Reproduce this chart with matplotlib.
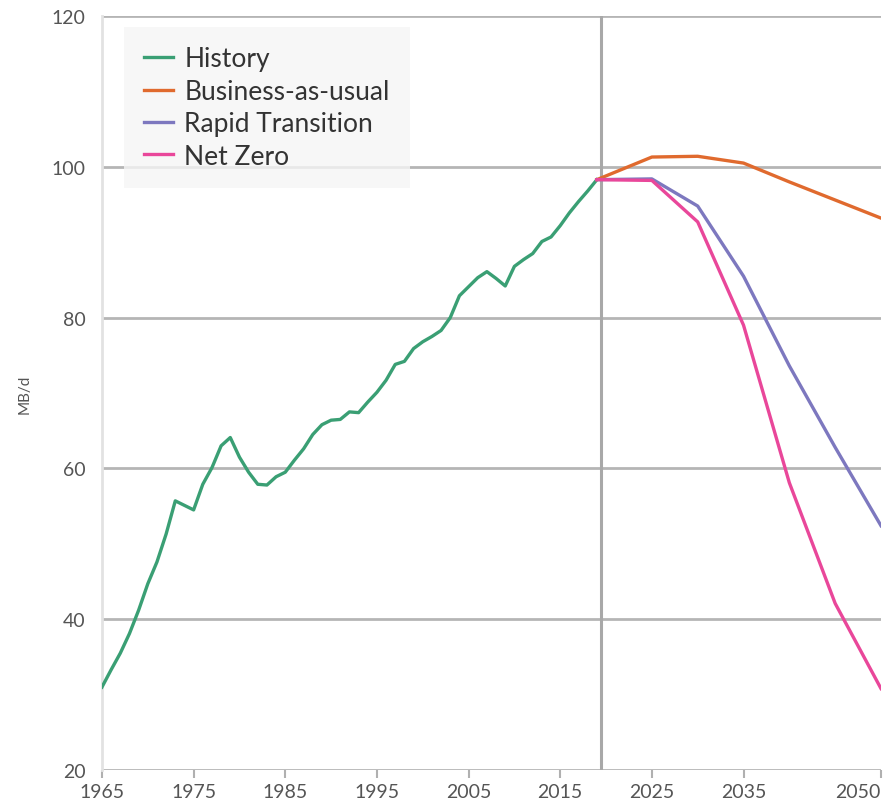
import matplotlib
matplotlib.use("Agg")
import matplotlib.pyplot as plt

history_years = list(range(1965, 2020))
history = [31.0, 33.3, 35.5, 38.1, 41.2, 44.7, 47.6, 51.3, 55.7, 55.1,
           54.5, 57.9, 60.1, 63.0, 64.1, 61.5, 59.5, 57.9, 57.8, 58.9,
           59.5, 61.1, 62.6, 64.5, 65.8, 66.4, 66.5, 67.5, 67.4, 68.8,
           70.1, 71.7, 73.8, 74.2, 75.9, 76.8, 77.5, 78.3, 80.0, 82.9,
           84.1, 85.3, 86.1, 85.2, 84.2, 86.8, 87.7, 88.5, 90.1, 90.7,
           92.2, 93.9, 95.4, 96.8, 98.3]

scenario_years = [2019, 2025, 2030, 2035, 2040, 2045, 2050]
business_as_usual = [98.3, 101.3, 101.4, 100.5, 98.0, 95.6, 93.2]
rapid_transition = [98.3, 98.4, 94.8, 85.5, 73.6, 62.8, 52.4]
net_zero = [98.3, 98.2, 92.7, 79.0, 58.1, 42.1, 30.8]

divider_year = 2019.5
x_ticks = [1965, 1975, 1985, 1995, 2005, 2015, 2025, 2035, 2050]
y_ticks = [20, 40, 60, 80, 100, 120]

colors = {"History": "#3a9f74", "Business-as-usual": "#e06a2e",
          "Rapid Transition": "#7d78bf", "Net Zero": "#e9479a"}

plt.rcParams["font.family"] = ["Lato", "DejaVu Sans"]

fig = plt.figure(figsize=(8.89, 8.04), dpi=100)
ax = fig.add_axes([0.1147, 0.041, 0.8763, 0.9378])

for y in y_ticks:
    ax.axhline(y, color="#b5b5b5", lw=2.0, zorder=1)
ax.axvline(divider_year, color="#a8a8a8", lw=2.2, zorder=1)

lw = 2.4
ax.plot(history_years, history, color=colors["History"], lw=lw, label="History", zorder=3)
ax.plot(scenario_years, business_as_usual, color=colors["Business-as-usual"], lw=lw,
        label="Business-as-usual", zorder=3)
ax.plot(scenario_years, rapid_transition, color=colors["Rapid Transition"], lw=lw,
        label="Rapid Transition", zorder=3)
ax.plot(scenario_years, net_zero, color=colors["Net Zero"], lw=lw, label="Net Zero", zorder=3)

ax.set_xlim(1965, 2050)
ax.set_ylim(20, 120)
ax.set_xticks(x_ticks)
ax.set_xticklabels([str(t) for t in x_ticks])
ax.set_yticks(y_ticks)
ax.set_yticklabels([str(t) for t in y_ticks])
ax.tick_params(axis="x", colors="#b0b0b0", length=6, width=1.5, pad=3,
               labelsize=14, labelcolor="#555555")
ax.tick_params(axis="y", length=0, pad=12, labelsize=14, labelcolor="#555555")
ax.get_xticklabels()[-1].set_horizontalalignment("right")
for s in ["top", "right", "bottom"]:
    ax.spines[s].set_visible(False)
ax.spines["left"].set_color("#e2e2e2")
ax.spines["left"].set_linewidth(2)

ax.set_ylabel("MB/d", fontsize=11, color="#555555", labelpad=14)

leg = ax.legend(loc="upper left", bbox_to_anchor=(0.028, 0.986), fontsize=19,
                frameon=True, fancybox=False, handlelength=1.1, handletextpad=0.45,
                borderpad=0.75, labelspacing=0.28, borderaxespad=0)
leg.get_frame().set_facecolor("#f6f6f6")
leg.get_frame().set_edgecolor("none")
leg.set_zorder(5)
for t in leg.get_texts():
    t.set_color("#333333")

fig.savefig("out.png", dpi=100)
